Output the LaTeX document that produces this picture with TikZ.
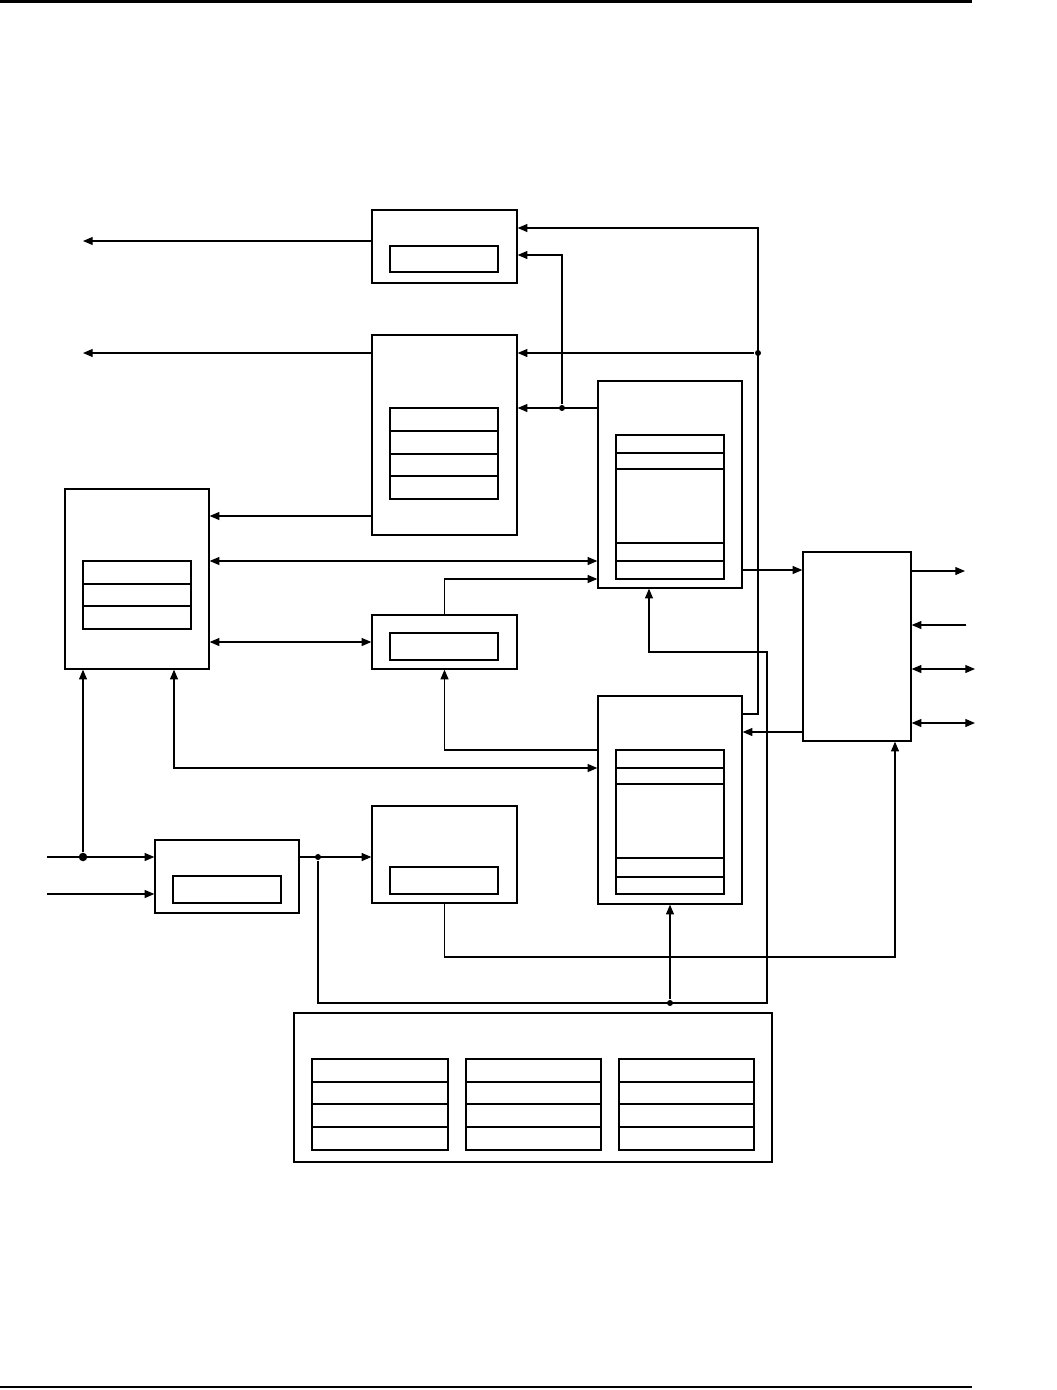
\documentclass[tikz,border=0pt]{standalone}
\usetikzlibrary{arrows.meta,fit}
\begin{document}
\begin{tikzpicture}[x=0.02cm,y=-0.02cm,line width=0.74pt,
  box/.style={draw,inner sep=0pt,fit={#1}},
  arr/.style={-{Triangle[length=5.5pt,width=4.5pt]}},
  barr/.style={{Triangle[length=5.5pt,width=4.5pt]}-{Triangle[length=5.5pt,width=4.5pt]}},
  jdot/.style={circle,fill,inner sep=0pt,minimum size=0.12cm},
  bigjdot/.style={circle,fill,inner sep=0pt,minimum size=0.17cm},
  rule/.style={line width=1.6pt}]
\useasboundingbox (0,0) rectangle (1057,1390);
% page rules
\draw[rule] (0,1.5) -- (972,1.5);
\draw[rule] (0,1387) -- (972,1387);
% boxes
\node[box={(372,210) (517,283)}] (A) {};
\node[box={(390,246) (498,272)}] (Ai) {};
\node[box={(372,335) (517,535)}] (B) {};
\node[box={(390,408) (498,499)}] (Bi) {};
\foreach \r in {431,454,476} \draw (Bi.west |- 0,\r) -- (Bi.east |- 0,\r);
\node[box={(65,489) (209,669)}] (C) {};
\node[box={(83,561) (191,629)}] (Ci) {};
\foreach \r in {584,606} \draw (Ci.west |- 0,\r) -- (Ci.east |- 0,\r);
\node[box={(598,381) (742,588)}] (D) {};
\node[box={(616,435) (724,579)}] (Di) {};
\foreach \r in {453,469,543,561} \draw (Di.west |- 0,\r) -- (Di.east |- 0,\r);
\node[box={(803,552) (911,741)}] (E) {};
\node[box={(598,696) (742,904)}] (F) {};
\node[box={(616,750) (724,894)}] (Fi) {};
\foreach \r in {768,784,858,877} \draw (Fi.west |- 0,\r) -- (Fi.east |- 0,\r);
\node[box={(372,615) (517,669)}] (G) {};
\node[box={(390,633) (498,660)}] (Gi) {};
\node[box={(155,840) (299,913)}] (H) {};
\node[box={(173,876) (281,903)}] (Hi) {};
\node[box={(372,806) (517,903)}] (I) {};
\node[box={(390,867) (498,894)}] (Ii) {};
\node[box={(294,1013) (772,1162)}] (J) {};
\node[box={(312,1059) (448,1150)}] (J1) {};
\node[box={(466,1059) (601,1150)}] (J2) {};
\node[box={(619,1059) (754,1150)}] (J3) {};
\foreach \n in {J1,J2,J3}
  \foreach \r in {1082,1104,1127} \draw (\n.west |- 0,\r) -- (\n.east |- 0,\r);
% free ends
\coordinate (out1) at (83,241);
\coordinate (out2) at (83,353);
\coordinate (in1) at (47,857);
\coordinate (in2) at (47,894);
\coordinate (eo1) at (965,571);
\coordinate (ei1) at (966,625);
\coordinate (eb1) at (975,669);
\coordinate (eb2) at (975,723);
% junctions
\node[bigjdot] (j1) at (83,857) {};
\node[jdot] (j2) at (318,857) {};
\node[jdot] (j3) at (670,1003) {};
\node[jdot] (j4) at (758,353) {};
\node[jdot] (j5) at (562,408) {};
% connectors
\draw[arr] (A.west |- 0,241) -- (out1);
\draw[arr] (B.west |- 0,353) -- (out2);
\draw[arr] (B.west |- 0,516) -- (C.east |- 0,516);
\draw[barr] (C.east |- 0,561) -- (D.west |- 0,561);
\draw[arr] (G.north) -- (G.north |- 0,579) -- (D.west |- 0,579);
\draw[barr] (C.east |- 0,642) -- (G.west |- 0,642);
\draw[arr] (F.west |- 0,750) -- (G.south |- 0,750) -- (G.south);
\draw[barr] (C.south -| 174,0) -- (174,768) -- (F.west |- 0,768);
\draw[arr] (in1) -- (H.west |- 0,857);
\draw[arr] (j1) -- (C.south -| j1);
\draw[arr] (in2) -- (H.west |- 0,894);
\draw[arr] (H.east |- 0,857) -- (I.west |- 0,857);
\draw[arr] (I.south) -- (I.south |- 0,957) -- (895,957) -- (E.south -| 895,0);
\draw[arr] (j2) -- (318,1003) -- (767,1003) -- (767,652) -- (649,652) -- (D.south -| 649,0);
\draw[arr] (j3) -- (F.south -| j3);
\draw[arr] (D.east |- 0,570) -- (E.west |- 0,570);
\draw[arr] (F.east |- 0,714) -- (758,714) -- (758,228) -- (A.east |- 0,228);
\draw[arr] (j4) -- (B.east |- j4);
\draw[arr] (D.west |- 0,408) -- (B.east |- 0,408);
\draw[arr] (j5) -- (562,255) -- (A.east |- 0,255);
\draw[arr] (E.west |- 0,732) -- (F.east |- 0,732);
\draw[arr] (E.east |- 0,571) -- (eo1);
\draw[arr] (ei1) -- (E.east |- 0,625);
\draw[barr] (E.east |- 0,669) -- (eb1);
\draw[barr] (E.east |- 0,723) -- (eb2);
\end{tikzpicture}
\end{document}
